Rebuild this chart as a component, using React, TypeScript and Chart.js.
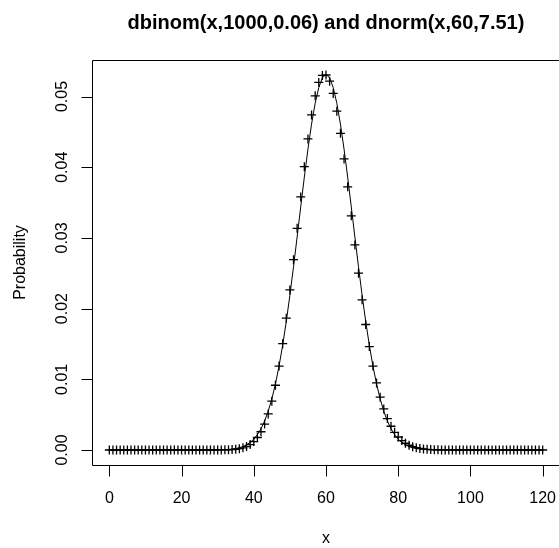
import { useEffect, useRef } from "react";
import { Chart, registerables } from "chart.js";

Chart.register(...registerables);

const titleText = "dbinom(x,1000,0.06) and dnorm(x,60,7.51)";
const xAxisTitle = "x";
const yAxisTitle = "Probability";

const xValues = [
  0, 1, 2, 3, 4, 5, 6, 7, 8, 9, 10, 11, 12, 13, 14, 15, 16, 17, 18, 19,
  20, 21, 22, 23, 24, 25, 26, 27, 28, 29, 30, 31, 32, 33, 34, 35, 36, 37, 38, 39,
  40, 41, 42, 43, 44, 45, 46, 47, 48, 49, 50, 51, 52, 53, 54, 55, 56, 57, 58, 59,
  60, 61, 62, 63, 64, 65, 66, 67, 68, 69, 70, 71, 72, 73, 74, 75, 76, 77, 78, 79,
  80, 81, 82, 83, 84, 85, 86, 87, 88, 89, 90, 91, 92, 93, 94, 95, 96, 97, 98, 99,
  100, 101, 102, 103, 104, 105, 106, 107, 108, 109, 110, 111, 112, 113, 114, 115, 116, 117, 118, 119,
  120,
];

const binomValues = [
  0, 0, 0, 0, 0, 0, 0, 0, 0, 0, 0, 0, 0, 0, 0, 0, 0, 0, 0, 0,
  0, 0, 0, 0, 0, 0, 0, 0, 0.000001, 0.0000022,
  0.0000046, 0.0000092, 0.0000178, 0.0000334, 0.0000607, 0.000107, 0.000183, 0.000304, 0.000491, 0.000773,
  0.001185, 0.001771, 0.002581, 0.003671, 0.005097, 0.006912, 0.00916, 0.011868, 0.01504, 0.018651,
  0.022643, 0.026922, 0.031361, 0.035805, 0.04008, 0.044003, 0.047397, 0.050104, 0.051997, 0.052991,
  0.053047, 0.052177, 0.05044, 0.047936, 0.044797, 0.041175, 0.037233, 0.03313, 0.029015, 0.025016,
  0.021237, 0.017756, 0.014624, 0.011866, 0.009488, 0.007477, 0.005809, 0.004449, 0.003361, 0.002504,
  0.00184, 0.001334, 0.000954, 0.000674, 0.000469, 0.000323, 0.000219, 0.000147, 0.0000973, 0.0000637,
  0.0000411, 0.0000263, 0.0000166, 0.0000103, 0.0000064, 0.0000039, 0.0000023, 0.0000014, 0, 0,
  0, 0, 0, 0, 0, 0, 0, 0, 0, 0, 0, 0, 0, 0, 0, 0, 0, 0, 0, 0,
  0,
];

const normValues = [
  0, 0, 0, 0, 0, 0, 0, 0, 0, 0, 0, 0, 0, 0, 0, 0, 0, 0, 0, 0,
  0, 0, 0, 0, 0, 0, 0, 0, 0.0000061, 0.0000106,
  0.0000182, 0.0000307, 0.0000509, 0.0000829, 0.000133, 0.000208, 0.000322, 0.000488, 0.000728, 0.001065,
  0.001532, 0.002164, 0.003005, 0.004097, 0.00549, 0.007228, 0.009347, 0.011875, 0.01482, 0.018172,
  0.02189, 0.025908, 0.030121, 0.034405, 0.038607, 0.042561, 0.046096, 0.049047, 0.05127, 0.052652,
  0.053121, 0.052652, 0.05127, 0.049047, 0.046096, 0.042561, 0.038607, 0.034405, 0.030121, 0.025908,
  0.02189, 0.018172, 0.01482, 0.011875, 0.009347, 0.007228, 0.00549, 0.004097, 0.003005, 0.002164,
  0.001532, 0.001065, 0.000728, 0.000488, 0.000322, 0.000208, 0.000133, 0.0000829, 0.0000509, 0.0000307,
  0.0000182, 0.0000106, 0.0000061, 0, 0, 0, 0, 0, 0, 0,
  0, 0, 0, 0, 0, 0, 0, 0, 0, 0, 0, 0, 0, 0, 0, 0, 0, 0, 0, 0,
  0,
];

const xTicks = [0, 20, 40, 60, 80, 100, 120];
const xTickLabels = ["0", "20", "40", "60", "80", "100", "120"];
const yTicks = [0, 0.01, 0.02, 0.03, 0.04, 0.05];
const yTickLabels = ["0.00", "0.01", "0.02", "0.03", "0.04", "0.05"];

const FONT = '"Liberation Sans", Arial, Helvetica, sans-serif';

const rAxesPlugin = {
  id: "rAxes",
  afterDraw(chart: any) {
    const ctx = chart.ctx as CanvasRenderingContext2D;
    const area = chart.chartArea;
    const xs = chart.scales.x;
    const ys = chart.scales.y;
    ctx.save();
    ctx.strokeStyle = "#000";
    ctx.fillStyle = "#000";
    ctx.lineWidth = 1;

    // box
    const L = Math.round(area.left) + 0.5;
    const T = Math.round(area.top) + 0.5;
    const R = Math.round(area.right) + 0.5;
    const B = Math.round(area.bottom) + 0.5;
    ctx.beginPath();
    ctx.rect(L, T, R - L, B - T);
    ctx.stroke();

    const tick = 11;
    // x axis
    const x0 = Math.round(xs.getPixelForValue(xTicks[0])) + 0.5;
    const x1 = Math.round(xs.getPixelForValue(xTicks[xTicks.length - 1])) + 0.5;
    ctx.beginPath();
    ctx.moveTo(x0, B);
    ctx.lineTo(x1, B);
    xTicks.forEach((v) => {
      const px = Math.round(xs.getPixelForValue(v)) + 0.5;
      ctx.moveTo(px, B);
      ctx.lineTo(px, B + tick);
    });
    ctx.stroke();
    ctx.font = `16px ${FONT}`;
    ctx.textAlign = "center";
    ctx.textBaseline = "alphabetic";
    xTicks.forEach((v, i) => {
      const px = xs.getPixelForValue(v);
      ctx.fillText(xTickLabels[i], px, 502.5);
    });

    // y axis
    const y0 = Math.round(ys.getPixelForValue(yTicks[0])) + 0.5;
    const y1 = Math.round(ys.getPixelForValue(yTicks[yTicks.length - 1])) + 0.5;
    ctx.beginPath();
    ctx.moveTo(L, y0);
    ctx.lineTo(L, y1);
    yTicks.forEach((v) => {
      const py = Math.round(ys.getPixelForValue(v)) + 0.5;
      ctx.moveTo(L, py);
      ctx.lineTo(L - tick, py);
    });
    ctx.stroke();
    yTicks.forEach((v, i) => {
      const py = ys.getPixelForValue(v);
      ctx.save();
      ctx.translate(66.5, py);
      ctx.rotate(-Math.PI / 2);
      ctx.fillText(yTickLabels[i], 0, 0);
      ctx.restore();
    });

    // axis titles
    ctx.fillText(xAxisTitle, (area.left + area.right) / 2, 543);
    ctx.save();
    ctx.translate(24.5, (area.top + area.bottom) / 2);
    ctx.rotate(-Math.PI / 2);
    ctx.fillText(yAxisTitle, 0, 0);
    ctx.restore();

    // main title
    ctx.font = `bold 20px ${FONT}`;
    ctx.fillText(titleText, (area.left + area.right) / 2, 29);
    ctx.restore();
  },
};

export default function App() {
  const ref = useRef<HTMLCanvasElement | null>(null);

  useEffect(() => {
    document.body.style.margin = "0";
    document.body.style.overflow = "hidden";
    const canvas = ref.current;
    if (!canvas) return;
    const chart = new Chart(canvas, {
      type: "scatter",
      data: {
        datasets: [
          {
            type: "scatter",
            label: "dbinom",
            data: xValues.map((x, i) => ({ x, y: binomValues[i] })),
            pointStyle: "cross",
            pointRadius: 4.5,
            pointBorderWidth: 1.3,
            borderColor: "#000",
            backgroundColor: "#000",
            showLine: false,
          },
          {
            type: "line",
            label: "dnorm",
            data: xValues.map((x, i) => ({ x, y: normValues[i] })),
            borderColor: "#000",
            borderWidth: 1,
            pointRadius: 0,
            tension: 0,
            fill: false,
          },
        ],
      },
      options: {
        responsive: false,
        animation: false,
        devicePixelRatio: 1,
        layout: { padding: { left: 92, top: 60, right: 10, bottom: 83 } },
        plugins: {
          legend: { display: false },
          tooltip: { enabled: false },
          title: { display: false },
        },
        scales: {
          x: { type: "linear", display: false, min: -4.8, max: 124.8 },
          y: { type: "linear", display: false, min: -0.002122, max: 0.055169 },
        },
      },
      plugins: [rAxesPlugin],
    });
    return () => chart.destroy();
  }, []);

  return (
    <div style={{ position: "fixed", left: 0, top: 0, width: 570, height: 548, background: "#fff" }}>
      <canvas ref={ref} width={570} height={548} style={{ display: "block" }} />
    </div>
  );
}
